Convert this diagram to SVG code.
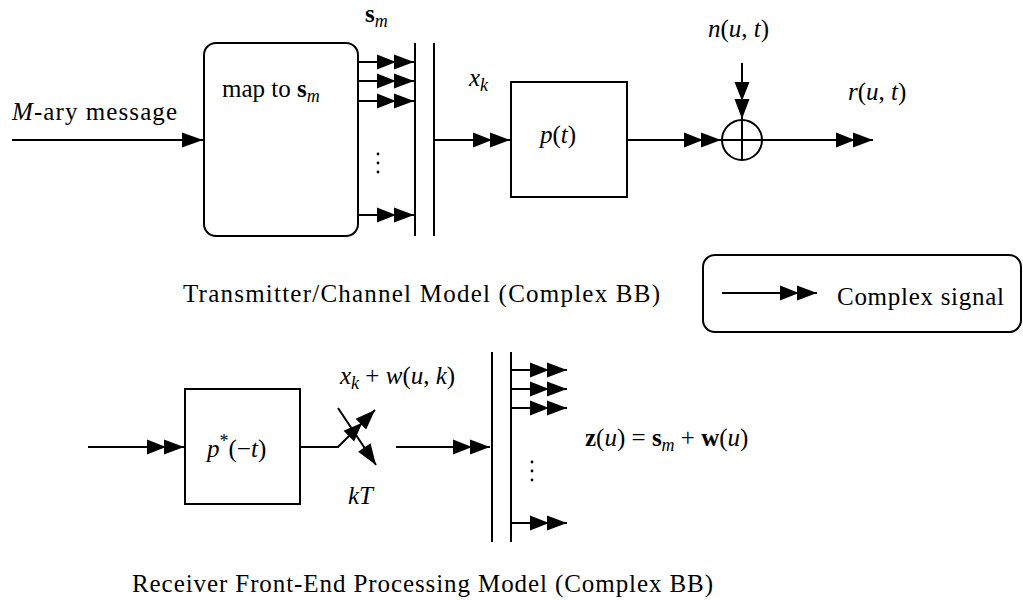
<svg xmlns="http://www.w3.org/2000/svg" width="1023" height="600" viewBox="0 0 1023 600">
<style>
.t{font-family:"Liberation Serif","Times New Roman",serif;font-size:25px;fill:#000}
.i{font-style:italic}
.b{font-weight:bold}
.ln{stroke:#000;stroke-width:2;fill:none}
.bx{stroke:#000;stroke-width:2;fill:#fff}
</style>
<defs>
<marker id="dbl" markerUnits="userSpaceOnUse" markerWidth="40" markerHeight="18" viewBox="0 -9 40 18" refX="37" refY="0" orient="auto" overflow="visible">
<path d="M0,-7.5 L19,0 L0,7.5 Z M17,-7.5 L37,0 L17,7.5 Z" fill="#000"/>
</marker>
<marker id="sgl" markerUnits="userSpaceOnUse" markerWidth="22" markerHeight="18" viewBox="0 -9 22 18" refX="21" refY="0" orient="auto" overflow="visible">
<path d="M0,-7.5 L21,0 L0,7.5 Z" fill="#000"/>
</marker>
</defs>
<rect width="1023" height="600" fill="#fff"/>

<g id="connectors">
<line class="ln" x1="12" y1="140" x2="203" y2="140" marker-end="url(#sgl)"/>
<line class="ln" x1="358" y1="62" x2="414" y2="62" marker-end="url(#dbl)"/>
<line class="ln" x1="358" y1="81" x2="414" y2="81" marker-end="url(#dbl)"/>
<line class="ln" x1="358" y1="101" x2="414" y2="101" marker-end="url(#dbl)"/>
<line class="ln" x1="358" y1="215" x2="414" y2="215" marker-end="url(#dbl)"/>
<line class="ln" x1="434" y1="140" x2="510" y2="140" marker-end="url(#dbl)"/>
<line class="ln" x1="627" y1="140" x2="721" y2="140" marker-end="url(#dbl)"/>
<line class="ln" x1="742" y1="63" x2="742" y2="119" marker-end="url(#dbl)"/>
<line class="ln" x1="762" y1="140" x2="873" y2="140" marker-end="url(#dbl)"/>
<line class="ln" x1="88" y1="447" x2="184" y2="447" marker-end="url(#dbl)"/>
<polyline class="ln" points="300,447 338,447 375,410" marker-end="url(#dbl)"/>
<line class="ln" x1="338" y1="408" x2="376" y2="465" marker-end="url(#sgl)"/>
<line class="ln" x1="396" y1="447" x2="490" y2="447" marker-end="url(#dbl)"/>
<line class="ln" x1="511" y1="370" x2="567" y2="370" marker-end="url(#dbl)"/>
<line class="ln" x1="511" y1="389" x2="567" y2="389" marker-end="url(#dbl)"/>
<line class="ln" x1="511" y1="408" x2="567" y2="408" marker-end="url(#dbl)"/>
<line class="ln" x1="511" y1="523" x2="567" y2="523" marker-end="url(#dbl)"/>
</g>

<g id="map">
<rect class="bx" x="204" y="43" width="154" height="193" rx="12"/>
<text class="t" x="222" y="97">map to <tspan class="b">s</tspan><tspan class="i" font-size="18" dy="5">m</tspan></text>
</g>
<g id="sm-label">
<text class="t" x="365" y="22"><tspan class="b">s</tspan><tspan class="i" font-size="18" dy="5">m</tspan></text>
</g>
<g id="input-label">
<text class="t" x="12" y="120" textLength="165"><tspan class="i">M</tspan>-ary message</text>
</g>
<g id="dots-top" fill="#000">
<circle cx="378" cy="154" r="1.4"/><circle cx="378" cy="163" r="1.4"/><circle cx="378" cy="172" r="1.4"/>
</g>
<g id="sp-tx">
<line class="ln" x1="415" y1="43" x2="415" y2="236"/>
<line class="ln" x1="434" y1="43" x2="434" y2="236"/>
</g>
<g id="xk-label">
<text class="t i" x="469" y="86">x<tspan font-size="18" dy="5">k</tspan></text>
</g>
<g id="pt">
<rect class="bx" x="511" y="82" width="116" height="115"/>
<text class="t" x="540" y="143"><tspan class="i">p</tspan>(<tspan class="i">t</tspan>)</text>
</g>
<g id="sum">
<circle class="ln" cx="742" cy="140" r="20"/>
<line class="ln" x1="722" y1="140" x2="762" y2="140"/>
<line class="ln" x1="742" y1="120" x2="742" y2="160"/>
</g>
<g id="noise-label">
<text class="t" x="708" y="37"><tspan class="i">n</tspan>(<tspan class="i">u</tspan>, <tspan class="i">t</tspan>)</text>
</g>
<g id="r-label">
<text class="t" x="848" y="100"><tspan class="i">r</tspan>(<tspan class="i">u</tspan>, <tspan class="i">t</tspan>)</text>
</g>
<g id="caption-tx">
<text class="t" x="183" y="302" textLength="477">Transmitter/Channel Model (Complex BB)</text>
</g>
<g id="legend">
<rect class="ln" x="703" y="255" width="318" height="77" rx="12"/>
<line class="ln" x1="722" y1="293" x2="817" y2="293" marker-end="url(#dbl)"/>
<text class="t" x="837" y="305" textLength="167">Complex signal</text>
</g>

<g id="mf">
<rect class="bx" x="185" y="389" width="115" height="115"/>
<text class="t" x="207" y="457"><tspan class="i">p</tspan><tspan font-size="18" dy="-10">*</tspan><tspan dy="10">(−</tspan><tspan class="i">t</tspan>)</text>
</g>
<g id="sampler-labels">
<text class="t" x="340" y="384"><tspan class="i">x</tspan><tspan class="i" font-size="18" dy="5">k</tspan><tspan dy="-5"> + </tspan><tspan class="i">w</tspan>(<tspan class="i">u</tspan>, <tspan class="i">k</tspan>)</text>
<text class="t i" x="348" y="504">kT</text>
</g>
<g id="sp-rx">
<line class="ln" x1="492" y1="352" x2="492" y2="542"/>
<line class="ln" x1="511" y1="352" x2="511" y2="542"/>
</g>
<g id="dots-bottom" fill="#000">
<circle cx="532" cy="462" r="1.4"/><circle cx="532" cy="471" r="1.4"/><circle cx="532" cy="480" r="1.4"/>
</g>
<g id="z-label">
<text class="t" x="585" y="446"><tspan class="b">z</tspan>(<tspan class="i">u</tspan>) = <tspan class="b">s</tspan><tspan class="i" font-size="18" dy="5">m</tspan><tspan dy="-5"> + </tspan><tspan class="b">w</tspan>(<tspan class="i">u</tspan>)</text>
</g>
<g id="caption-rx">
<text class="t" x="132" y="592" textLength="581">Receiver Front-End Processing Model (Complex BB)</text>
</g>
</svg>
